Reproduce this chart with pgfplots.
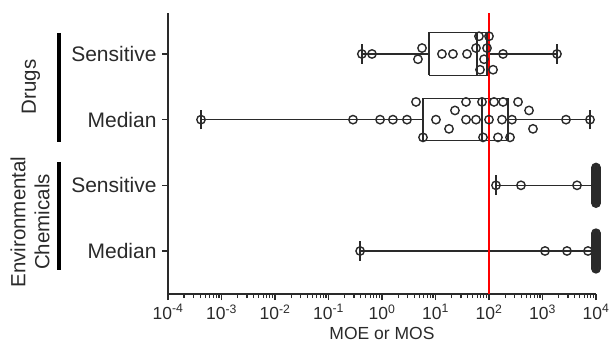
\documentclass[border=0pt]{standalone}
\usepackage{pgfplots}
\pgfplotsset{compat=1.18}
\usepackage{fontspec}
\setmainfont{Liberation Sans}
\definecolor{ink}{HTML}{2A2A2A}
\begin{document}
\begin{tikzpicture}
\begin{axis}[
  scale only axis, width=428pt, height=281pt,
  xmode=log, xmin=1e-4, xmax=1e4,
  ymin=0.345, ymax=4.624,
  axis x line*=bottom, axis y line*=left,
  axis line style={ink, line width=1.4pt},
  every tick/.style={ink, line width=1.2pt},
  tick align=outside,
  major tick length=6pt, minor tick length=4pt,
  xtick={1e-4,1e-3,1e-2,1e-1,1,10,100,1000,10000},
  xticklabels={10\textsuperscript{-4},10\textsuperscript{-3},10\textsuperscript{-2},10\textsuperscript{-1},10\textsuperscript{0},10\textsuperscript{1},10\textsuperscript{2},10\textsuperscript{3},10\textsuperscript{4}},
  minor xtick={2e-4,3e-4,4e-4,5e-4,6e-4,7e-4,8e-4,9e-4,
               2e-3,3e-3,4e-3,5e-3,6e-3,7e-3,8e-3,9e-3,
               2e-2,3e-2,4e-2,5e-2,6e-2,7e-2,8e-2,9e-2,
               0.2,0.3,0.4,0.5,0.6,0.7,0.8,0.9,
               2,3,4,5,6,7,8,9,
               20,30,40,50,60,70,80,90,
               200,300,400,500,600,700,800,900,
               2000,3000,4000,5000,6000,7000,8000,9000},
  ytick={1,2,3,4},
  yticklabels={Median,Sensitive,Median,Sensitive},
  xticklabel style={font=\fontsize{17.5}{20}\selectfont, text=ink, yshift=-1pt},
  yticklabel style={font=\fontsize{21}{24}\selectfont, text=ink, xshift=-2pt},
  xlabel={MOE or MOS},
  xlabel style={font=\fontsize{17.5}{20}\selectfont, text=ink, inner sep=1pt,
                at={(axis description cs:0.5,0)}, anchor=base, yshift=-45.5pt},
  clip=false,
]
\pgfplotsset{seg/.style={ink, line width=1.4pt}}
% whiskers
\addplot[seg] coordinates {(0.42,4) (7.6,4)};
\addplot[seg] coordinates {(91.8,4) (1866,4)};
\addplot[seg] coordinates {(4.14e-4,3) (5.84,3)};
\addplot[seg] coordinates {(226,3) (7730,3)};
\addplot[seg] coordinates {(135,2) (10000,2)};
\addplot[seg] coordinates {(0.39,1) (10000,1)};
% caps
\addplot[seg] coordinates {(0.42,3.85) (0.42,4.15)};
\addplot[seg] coordinates {(1866,3.85) (1866,4.15)};
\addplot[seg] coordinates {(4.14e-4,2.85) (4.14e-4,3.15)};
\addplot[seg] coordinates {(7730,2.85) (7730,3.15)};
\addplot[seg] coordinates {(135,1.85) (135,2.15)};
\addplot[seg] coordinates {(0.39,0.85) (0.39,1.15)};
% boxes
\addplot[seg] coordinates {(7.6,3.675) (91.8,3.675) (91.8,4.325) (7.6,4.325) (7.6,3.675)};
\addplot[seg] coordinates {(59.7,3.675) (59.7,4.325)};
\addplot[seg] coordinates {(5.84,2.68) (226,2.68) (226,3.32) (5.84,3.32) (5.84,2.68)};
\addplot[seg] coordinates {(74,2.68) (74,3.32)};
% points
\pgfplotsset{pts/.style={only marks, mark=o, mark size=4.2pt, mark options={ink, line width=1.4pt}}}
\addplot[pts] coordinates {(0.42,4) (0.65,4) (5.6,4.09) (4.7,3.92) (13.2,4) (21.2,4) (38.8,4) (57.2,4.09) (65,4.27) (100,4.27) (91.8,4.09) (80.7,3.92) (67.9,3.76) (119,3.76) (183,4) (1866,4)};
\addplot[pts] coordinates {(4.14e-4,3) (0.287,3) (0.92,3) (1.6,3) (2.93,3) (4.32,3.27) (5.84,2.73) (10.2,3) (17.9,2.86) (23.1,3.14) (37.2,3.27) (37.2,3) (57.2,3) (74,3.27) (77.3,2.73) (100,3) (124,3.27) (147,2.73) (183,3.27) (175,3) (247,2.73) (269,3) (349,3.27) (560,3.14) (664,2.86) (2750,3) (7730,3)};
\addplot[pts] coordinates {(135,2) (396,2) (4420,2)
 (10000,1.73) (10000,1.745) (10000,1.76) (10000,1.775) (10000,1.79) (10000,1.805) (10000,1.82) (10000,1.835) (10000,1.85) (10000,1.865)
 (10000,1.88) (10000,1.895) (10000,1.91) (10000,1.925) (10000,1.94) (10000,1.955) (10000,1.97) (10000,1.985) (10000,2.00)
 (10000,2.015) (10000,2.03) (10000,2.045) (10000,2.06) (10000,2.075) (10000,2.09) (10000,2.105) (10000,2.12) (10000,2.135)
 (10000,2.15) (10000,2.165) (10000,2.18) (10000,2.195) (10000,2.21) (10000,2.225) (10000,2.24) (10000,2.255) (10000,2.27)};
\addplot[pts] coordinates {(0.39,1) (1114,1) (2870,1) (7080,1)
 (10000,0.73) (10000,0.745) (10000,0.76) (10000,0.775) (10000,0.79) (10000,0.805) (10000,0.82) (10000,0.835) (10000,0.85) (10000,0.865)
 (10000,0.88) (10000,0.895) (10000,0.91) (10000,0.925) (10000,0.94) (10000,0.955) (10000,0.97) (10000,0.985) (10000,1.00)
 (10000,1.015) (10000,1.03) (10000,1.045) (10000,1.06) (10000,1.075) (10000,1.09) (10000,1.105) (10000,1.12) (10000,1.135)
 (10000,1.15) (10000,1.165) (10000,1.18) (10000,1.195) (10000,1.21) (10000,1.225) (10000,1.24) (10000,1.255) (10000,1.27)};
% reference line
\addplot[red, line width=2pt] coordinates {(100,0.345) (100,4.624)};
% group annotations
\draw[black, line width=4pt] ([shift={(-109pt,261pt)}]rel axis cs:0,0) -- ([shift={(-109pt,152pt)}]rel axis cs:0,0);
\draw[black, line width=4pt] ([shift={(-109pt,132pt)}]rel axis cs:0,0) -- ([shift={(-109pt,24pt)}]rel axis cs:0,0);
\node[rotate=90, text=ink, font=\fontsize{20.5}{24}\selectfont] at ([shift={(-137pt,207pt)}]rel axis cs:0,0) {Drugs};
\node[rotate=90, text=ink, align=center, font=\fontsize{20.5}{24}\selectfont] at ([shift={(-138pt,72pt)}]rel axis cs:0,0) {Environmental\\Chemicals};
\end{axis}
\pgfresetboundingbox
\path[use as bounding box] (current axis.south west) ++(-168pt,-48pt) rectangle ++(612pt,342pt);
\end{tikzpicture}
\end{document}
